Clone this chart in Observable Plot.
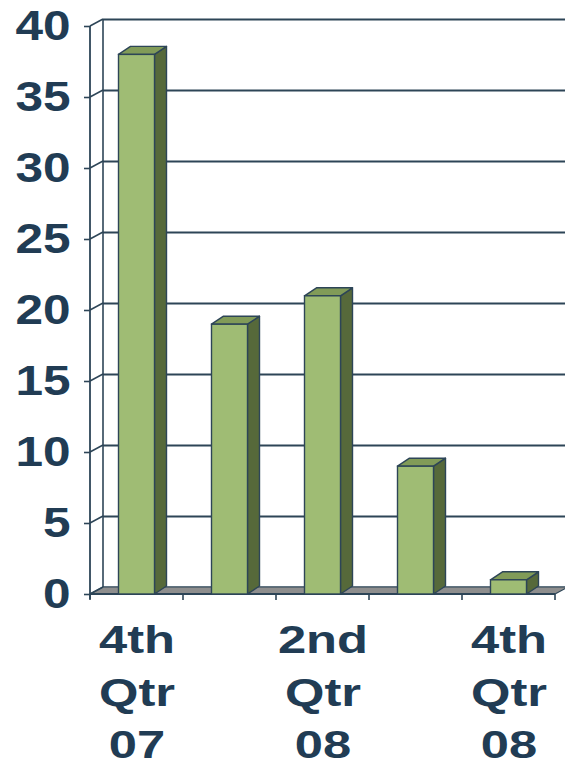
<!DOCTYPE html>
<html>
<head>
<meta charset="utf-8">
<script src="https://cdn.jsdelivr.net/npm/d3@7"></script>
<script src="https://cdn.jsdelivr.net/npm/@observablehq/plot@0.6"></script>
<style>
  body { margin: 0; background: #ffffff; }
  #chart svg { display: block; }
</style>
</head>
<body>
<div id="chart"></div>
<script>
// Quarterly counts, Q4 2007 – Q4 2008
const quarters = ["4th Qtr 07", "1st Qtr 08", "2nd Qtr 08", "3rd Qtr 08", "4th Qtr 08"];
const counts = [38, 19, 21, 9, 1];
// Only every other quarter carries a label under the axis
const quarterLabels = ["4th\nQtr\n07", "", "2nd\nQtr\n08", "", "4th\nQtr\n08"];
const yTicks = [0, 5, 10, 15, 20, 25, 30, 35, 40];

const rows = quarters.map((q, i) => ({quarter: q, count: counts[i], label: quarterLabels[i]}));

const ink = "#2d4557";        // outlines, axes, gridlines
const textInk = "#213c54";
const faceFront = "#9fbc74";
const faceSide = "#56693a";
const faceTop = "#819b58";
const floorFill = "#8e8e8e";

const wall = {dx: 13, dy: -7};   // offset of the back wall from the front plane
const depth = {dx: 12, dy: -8};  // depth of each column
const barInset = 28.5;

const svgNS = "http://www.w3.org/2000/svg";
function el(name, attrs) {
  const n = document.createElementNS(svgNS, name);
  for (const [k, v] of Object.entries(attrs)) n.setAttribute(k, v);
  return n;
}
const pts = (arr) => arr.map((p) => p.join(",")).join(" ");

// Back wall: left edge
function backWall(index, {x, y}, values, dim) {
  const g = el("g", {});
  const x0 = dim.marginLeft + wall.dx;
  g.appendChild(el("line", {x1: x0, x2: x0, y1: y(40) + wall.dy, y2: y(0) + wall.dy, stroke: ink, "stroke-width": 1.6}));
  return g;
}

// Floor plane, front axis line, category ticks and the slanted y ticks
function floorAndAxes(index, {x, y}, values, dim) {
  const g = el("g", {});
  const x0 = dim.marginLeft, x1 = dim.width - dim.marginRight, y0 = y(0);
  g.appendChild(el("polygon", {
    points: pts([[x0, y0], [x1, y0], [x1 + wall.dx, y0 + wall.dy], [x0 + wall.dx, y0 + wall.dy]]),
    fill: floorFill, stroke: ink, "stroke-width": 1.2, "stroke-linejoin": "round"
  }));
  g.appendChild(el("line", {x1: x0, x2: x1, y1: y0, y2: y0, stroke: ink, "stroke-width": 1.8}));
  // vertical front axis
  g.appendChild(el("line", {x1: x0, x2: x0, y1: y(40), y2: y0 + 5, stroke: ink, "stroke-width": 1.8}));
  // slanted ticks joining the front axis to the back wall
  for (const t of yTicks) {
    g.appendChild(el("line", {x1: x0, x2: x0 + wall.dx, y1: y(t), y2: y(t) + wall.dy, stroke: ink, "stroke-width": 1.5}));
  }
  // category boundary ticks
  const bw = x(quarters[1]) - x(quarters[0]);
  const edges = quarters.map((q) => x(q)).concat([x(quarters[quarters.length - 1]) + bw]);
  for (const e of edges) {
    g.appendChild(el("line", {x1: e, x2: e, y1: y0, y2: y0 + 6, stroke: ink, "stroke-width": 1.6}));
  }
  return g;
}

// Side and top faces of each column
function columnDepth(index, {x, y}, values, dim) {
  const g = el("g", {});
  const bw = x(quarters[1]) - x(quarters[0]);
  rows.forEach((d) => {
    const xl = x(d.quarter) + barInset, xr = x(d.quarter) + bw - barInset;
    const yt = y(d.count), yb = y(0);
    g.appendChild(el("polygon", {
      points: pts([[xr, yt], [xr + depth.dx, yt + depth.dy], [xr + depth.dx, yb + depth.dy], [xr, yb]]),
      fill: faceSide, stroke: ink, "stroke-width": 1.4, "stroke-linejoin": "round"
    }));
    g.appendChild(el("polygon", {
      points: pts([[xl, yt], [xl + depth.dx, yt + depth.dy], [xr + depth.dx, yt + depth.dy], [xr, yt]]),
      fill: faceTop, stroke: ink, "stroke-width": 1.4, "stroke-linejoin": "round"
    }));
  });
  return g;
}

const chart = Plot.plot({
  width: 565,
  height: 767,
  marginTop: 26,
  marginBottom: 173,
  marginLeft: 90,
  marginRight: 10,
  style: {fontFamily: "'Liberation Sans', Arial, sans-serif", color: textInk, background: "#ffffff"},
  x: {domain: quarters, padding: 0, axis: null},
  y: {domain: [0, 40], axis: null},
  marks: [
    Plot.ruleY(yTicks, {stroke: ink, strokeWidth: 1.8, dx: wall.dx, dy: wall.dy}),
    backWall,
    floorAndAxes,
    columnDepth,
    Plot.barY(rows, {x: "quarter", y: "count", insetLeft: barInset, insetRight: barInset, fill: faceFront, stroke: ink, strokeWidth: 1.4}),
    Plot.axisY(yTicks, {anchor: "left", tickSize: 6, tickPadding: 14, fontSize: 42, fontWeight: "bold", stroke: ink, strokeWidth: 1.6, fill: textInk, label: null}),
    Plot.text(rows.filter((d) => d.label), {
      x: "quarter", text: "label", frameAnchor: "bottom", dy: 21,
      lineAnchor: "top", lineHeight: 1.35, fontSize: 39, fontWeight: "bold", fill: textInk
    })
  ]
});

// The lettering is set wide: stretch each label horizontally about its anchor point
function widen(texts, k) {
  texts.forEach((t) => {
    const tr = t.getAttribute("transform") || "";
    const x = t.getAttribute("x");
    if (x != null && !tr) {
      t.setAttribute("transform", `translate(${x},0) scale(${k},1)`);
      t.setAttribute("x", 0);
    } else {
      t.setAttribute("transform", `${tr} scale(${k},1)`);
    }
  });
}
const allTexts = Array.from(chart.querySelectorAll("text"));
widen(allTexts.filter((t) => yTicks.map(String).includes(t.textContent.trim())), 1.18);
widen(allTexts.filter((t) => t.querySelector("tspan") || /Qtr/.test(t.textContent)), 1.3);

document.getElementById("chart").appendChild(chart);
</script>
</body>
</html>
